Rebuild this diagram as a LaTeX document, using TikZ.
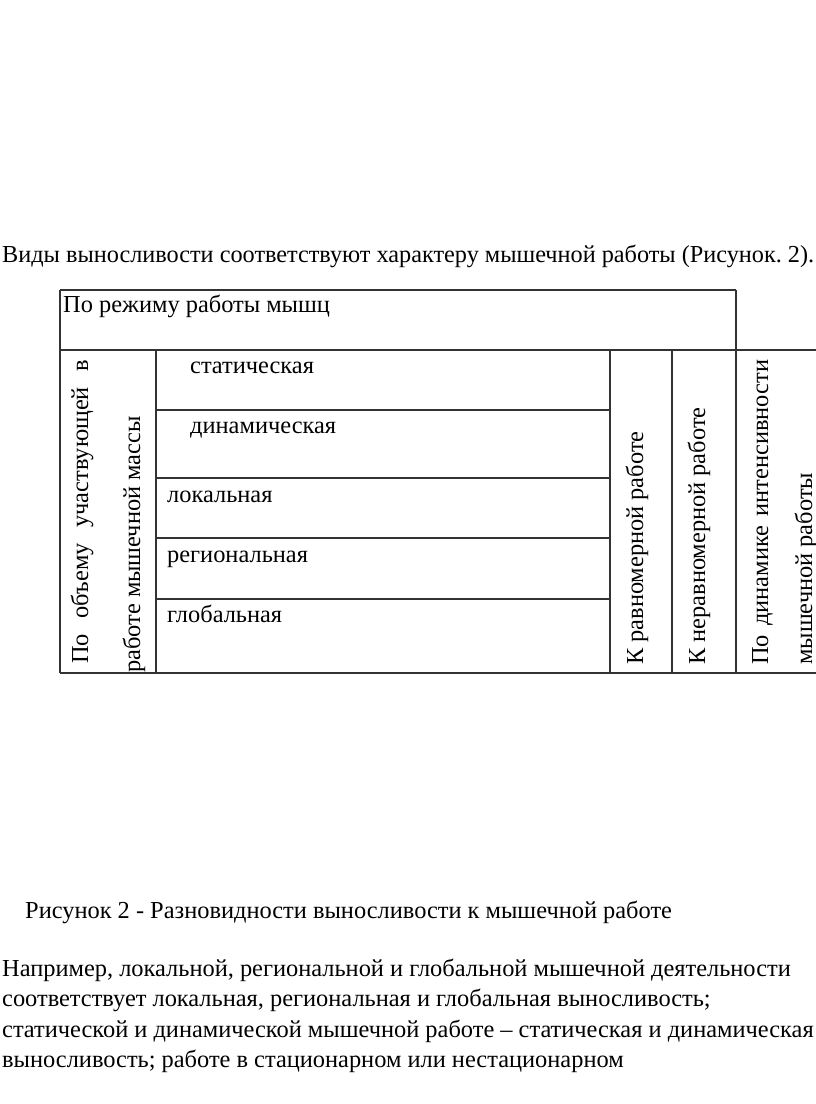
\documentclass[tikz,border=0pt]{standalone}
\usepackage{fontspec}
\setmainfont{Liberation Serif}
\usepackage{graphicx}
\tikzset{
    linetext/.style={
        anchor=base west,
        inner sep=0pt,
        font=\fontsize{24.4}{28}\selectfont
    },
    celltext/.style={
        anchor=base west,
        inner sep=0pt,
        font=\fontsize{24.4}{28}\selectfont
    },
    uptext/.style={
        celltext,
        rotate=90
    },
    rule/.style={
        draw=black!80,
        line width=1.1pt
    }
}

\begin{document}
\begin{tikzpicture}[x=1pt,y=-1pt]
        \useasboundingbox (0,0) rectangle (816,1104);

        \node[linetext] (intro) at (2,262) {\resizebox{812pt}{\height}{Виды выносливости соответствуют характеру мышечной работы (Рисунок.~2).}};

        % table frame
        \draw[rule] (60,290) -- (736,290);
        \draw[rule] (60,350) -- (816,350);
        \draw[rule] (60,673) -- (816,673);
        \draw[rule] (60,290) -- (60,673);
        \draw[rule] (736,290) -- (736,673);
        \draw[rule] (156,350) -- (156,673);
        \draw[rule] (610,350) -- (610,673);
        \draw[rule] (672,350) -- (672,673);
        \foreach \y in {410,478,538,599}
            \draw[rule] (156,\y) -- (610,\y);

        \node[celltext] (mode) at (63,312) {По режиму работы мышц};

        \node[uptext] (volumeA) at (88,664) {\makebox[304pt][s]{По объему участвующей в}};
        \node[uptext] (volumeB) at (140,673) {работе мышечной массы};

        \node[celltext] (static) at (190,373) {статическая};
        \node[celltext] (dynamic) at (190,433) {динамическая};
        \node[celltext] (local) at (167,502) {локальная};
        \node[celltext] (regional) at (167,562) {региональная};
        \node[celltext] (global) at (167,622) {глобальная};

        \node[uptext] (even) at (643,665) {К равномерной работе};
        \node[uptext] (uneven) at (705,665) {К неравномерной работе};
        \node[uptext] (dynA) at (768,665) {\makebox[305pt][s]{По динамике интенсивности}};
        \node[uptext] (dynB) at (812,665) {мышечной работы};

        % caption and text below
        \node[linetext] (caption) at (25,918) {Рисунок 2 - Разновидности выносливости к мышечной работе};
        \node[linetext] (lineA) at (2,976) {Например, локальной, региональной и глобальной мышечной деятельности};
        \node[linetext] (lineB) at (2,1006) {соответствует локальная, региональная и глобальная выносливость;};
        \node[linetext] (lineC) at (2,1037) {статической и динамической мышечной работе – статическая и динамическая};
        \node[linetext] (lineD) at (2,1067) {выносливость; работе в стационарном или нестационарном};
    \end{tikzpicture}
\end{document}
